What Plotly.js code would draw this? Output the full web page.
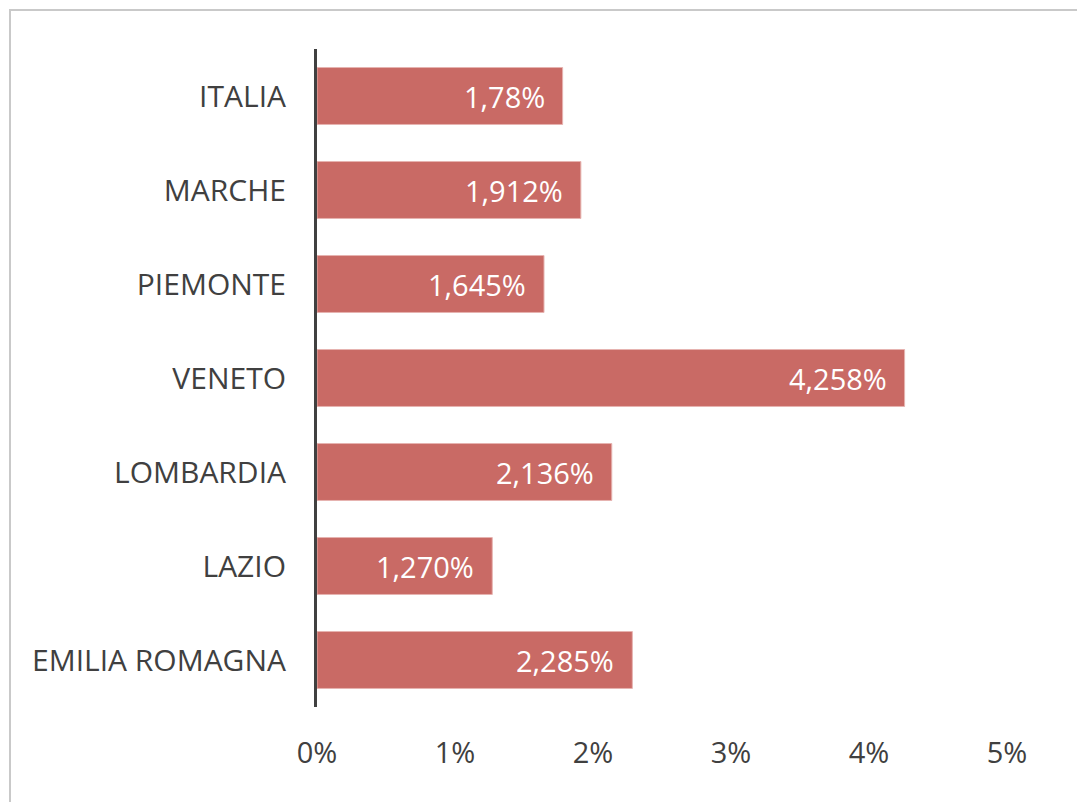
<!DOCTYPE html>
<html>
<head>
<meta charset="utf-8">
<script src="https://cdn.plot.ly/plotly-3.0.1.min.js"></script>
<style>
  html, body { margin: 0; padding: 0; background: #fff; }
  #wrap { position: relative; width: 1077px; height: 802px; overflow: hidden; }
  #frame { position: absolute; left: 9px; top: 9px; width: 1100px; height: 900px;
           border-top: 2px solid #C9C9C9; border-left: 2px solid #C9C9C9; box-sizing: border-box; }
  #chart { position: absolute; left: 0; top: 0; width: 1077px; height: 802px; }
</style>
</head>
<body>
<div id="wrap">
  <div id="frame"></div>
  <div id="chart"></div>
</div>
<script>
const categories = ["ITALIA", "MARCHE", "PIEMONTE", "VENETO", "LOMBARDIA", "LAZIO", "EMILIA ROMAGNA"];
const values = [1.78, 1.912, 1.645, 4.258, 2.136, 1.270, 2.285];
const valueLabels = ["1,78%", "1,912%", "1,645%", "4,258%", "2,136%", "1,270%", "2,285%"];
const xTickValues = [0, 1, 2, 3, 4, 5];
const xTickLabels = ["0%", "1%", "2%", "3%", "4%", "5%"];

const font = "'Open Sans', 'Noto Sans', sans-serif";

const trace = {
  type: "bar",
  orientation: "h",
  x: values,
  y: categories,
  marker: { color: "#C96A65", line: { color: "#E6B3B0", width: 1 } },
  hoverinfo: "skip"
};

const annotations = values.map((v, i) => ({
  x: v, y: categories[i], xref: "x", yref: "y",
  text: valueLabels[i], showarrow: false,
  xanchor: "right", yanchor: "middle", xshift: -16,
  font: { family: font, size: 29, color: "#FFFFFF" }
}));

const layout = {
  width: 1077, height: 802,
  paper_bgcolor: "rgba(0,0,0,0)",
  plot_bgcolor: "rgba(0,0,0,0)",
  margin: { l: 317, r: 70, t: 49, b: 95 },
  bargap: 0.394,
  showlegend: false,
  font: { family: font, color: "#404040" },
  xaxis: {
    range: [0, 5],
    tickvals: xTickValues,
    ticktext: xTickLabels,
    showgrid: false, zeroline: false, showline: false,
    ticks: "",
    ticklabelstandoff: 26,
    tickfont: { family: font, size: 29, color: "#404040" },
    fixedrange: true
  },
  yaxis: {
    type: "category",
    categoryorder: "array",
    categoryarray: categories,
    autorange: "reversed",
    showgrid: false, zeroline: false,
    showline: true, linecolor: "#404040", linewidth: 3,
    ticks: "",
    ticklabelstandoff: 22,
    tickfont: { family: font, size: 30, color: "#404040" },
    fixedrange: true
  },
  annotations: annotations
};

Plotly.newPlot("chart", [trace], layout, { displayModeBar: false, staticPlot: true });
</script>
</body>
</html>
